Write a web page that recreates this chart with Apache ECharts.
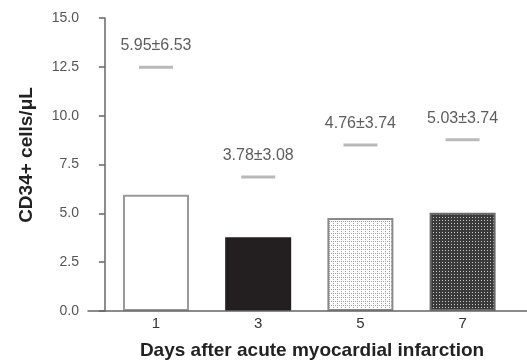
<!DOCTYPE html>
<html><head><meta charset="utf-8">
<script src="https://cdn.jsdelivr.net/npm/echarts@6/dist/echarts.min.js"></script>
<style>html,body{margin:0;padding:0;background:#fff}#c{width:527px;height:364px}</style>
</head><body><div id="c"></div>
<script>
var categories = ['1', '3', '5', '7'];
var days = [1, 3, 5, 7];
var means = [5.95, 3.78, 4.76, 5.03];
var sds = [6.53, 3.08, 3.74, 3.74];
var yTicks = [0, 2.5, 5, 7.5, 10, 12.5, 15];

function makePattern(size, bg, fg, pts) {
  var c = document.createElement('canvas');
  c.width = size; c.height = size;
  var g = c.getContext('2d');
  g.fillStyle = bg; g.fillRect(0, 0, size, size);
  g.fillStyle = fg;
  pts.forEach(function (p) { g.fillRect(p[0], p[1], 1, 1); });
  return { image: c, repeat: 'repeat' };
}
var dotsLight = makePattern(4, '#ffffff', '#a0a0a0', [[1, 1], [3, 1], [1, 3]]);
var dotsDark = makePattern(3, '#3a3a3a', '#c8c8c8', [[1, 1]]);

var fills = ['#ffffff', '#231f20', dotsLight, dotsDark];
var borders = ['#999999', '#231f20', '#8a8a8a', '#6a6a6a'];

var barData = days.map(function (d, i) {
  return { value: [d, means[i]], itemStyle: { color: fills[i], borderColor: borders[i], borderWidth: 2 } };
});
var capData = days.map(function (d, i) {
  return { value: [d, means[i] + sds[i]], label: means[i].toFixed(2) + '±' + sds[i].toFixed(2) };
});

var chart = echarts.init(document.getElementById('c'), null, { renderer: 'canvas' });
chart.setOption({
  animation: false,
  grid: { left: 88, right: 0, top: 18, bottom: 53, containLabel: false, outerBoundsMode: 'none' },
  xAxis: {
    type: 'value', min: -0.33, max: 8.26, z: 5,
    name: 'Days after acute myocardial infarction',
    nameLocation: 'middle', nameGap: 30,
    nameTextStyle: { fontFamily: 'Liberation Sans', fontWeight: 'bold', fontSize: 19, color: '#222', padding: [0, 0, 0, 9] },
    axisLine: { show: true, onZero: false, lineStyle: { color: '#666', width: 1.5 } },
    axisTick: { show: false },
    splitLine: { show: false },
    axisLabel: {
      customValues: days,
      formatter: function (v) { return categories[days.indexOf(v)] || ''; },
      fontFamily: 'Liberation Sans', fontSize: 15, color: '#333', margin: 5
    }
  },
  yAxis: {
    type: 'value', min: 0, max: 15, interval: 2.5,
    name: 'CD34+ cells/μL',
    nameLocation: 'middle', nameGap: 52, nameRotate: 90,
    nameTextStyle: { fontFamily: 'Liberation Sans', fontWeight: 'bold', fontSize: 19, color: '#222', padding: [0, 0, 0, 19] },
    axisLine: { show: true, lineStyle: { color: '#666', width: 1.5 } },
    axisTick: { show: true, length: 6, lineStyle: { color: '#666', width: 1.5 } },
    splitLine: { show: false },
    axisLabel: {
      customValues: yTicks,
      formatter: function (v) { return v.toFixed(1); },
      fontFamily: 'Liberation Sans', fontSize: 14, color: '#555', margin: 9
    }
  },
  series: [
    { type: 'bar', data: barData, barWidth: 66 },
    {
      type: 'scatter', data: capData, symbol: 'rect', symbolSize: [34, 3],
      itemStyle: { color: '#a8a8a8' },
      label: {
        show: true, position: 'top', distance: 12,
        formatter: function (p) { return p.data.label; },
        fontFamily: 'Liberation Sans', fontSize: 16, color: '#333'
      }
    }
  ]
});
</script></body></html>
